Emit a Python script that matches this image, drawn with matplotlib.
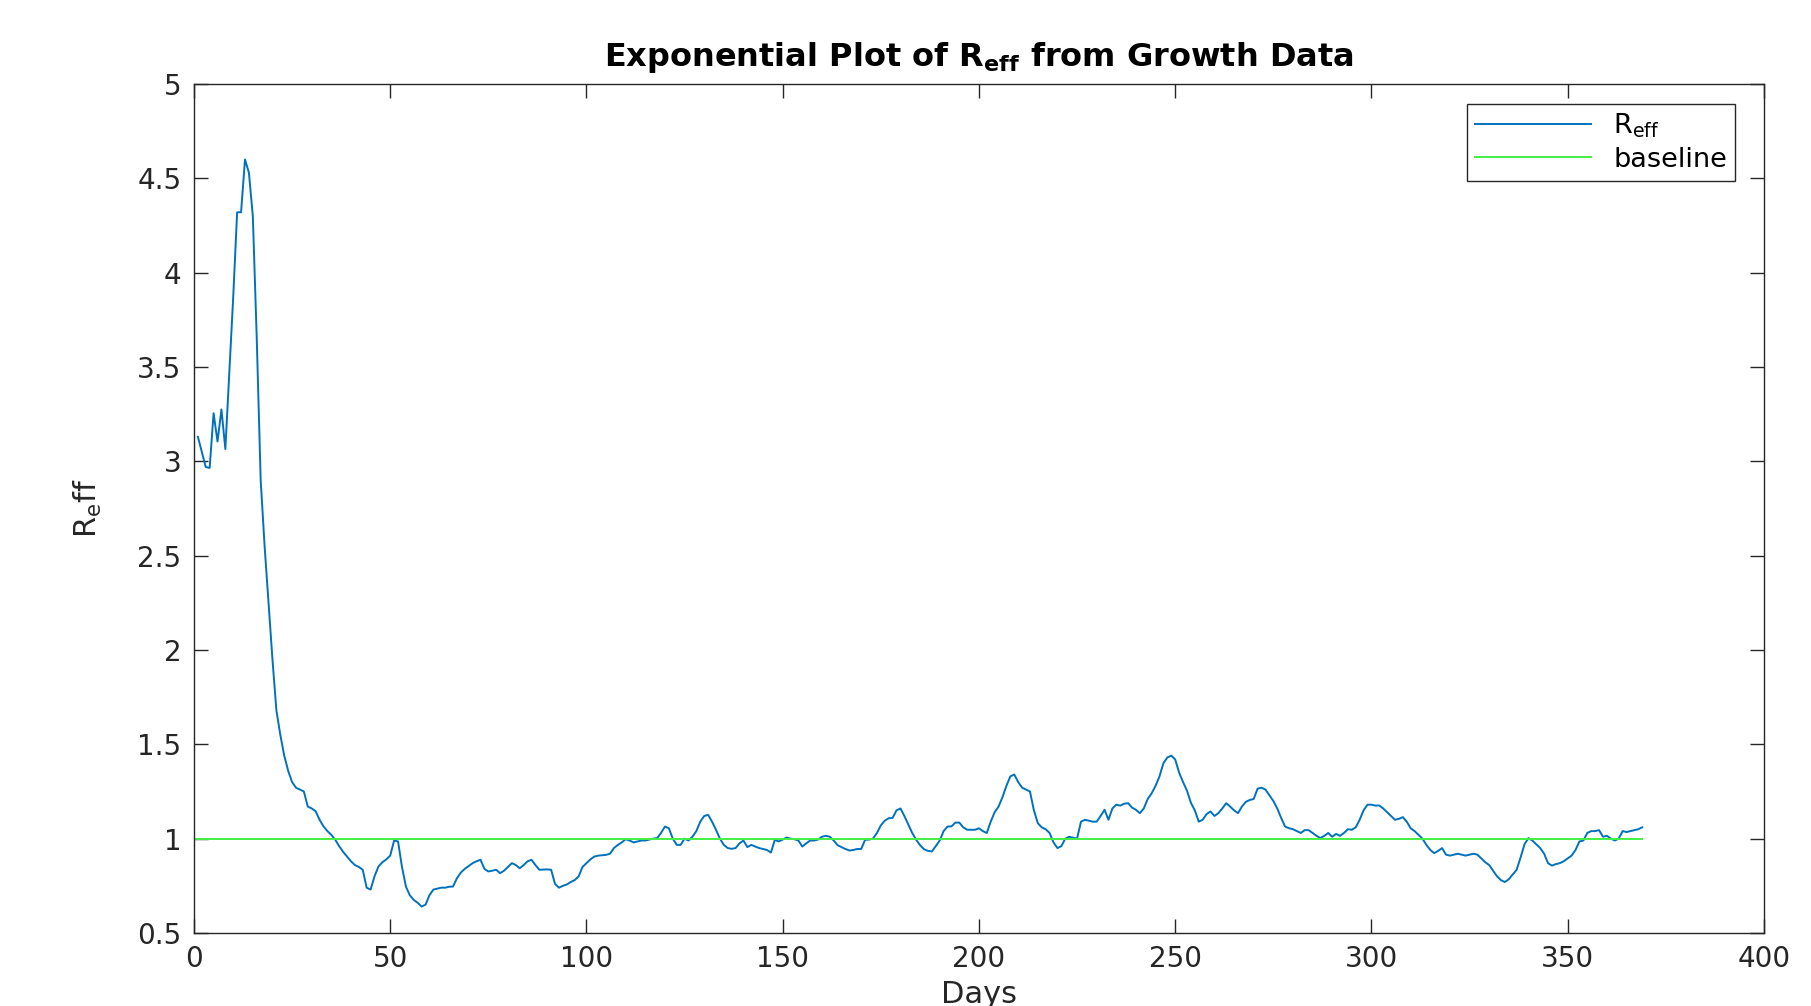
import numpy as np
import matplotlib
matplotlib.use('Agg')
import matplotlib.pyplot as plt

# R_eff, day -> value
days = [1, 2, 3, 4, 5, 6, 7, 8, 10, 11, 12, 13, 14, 15, 16, 17, 18, 19, 20,
        21, 22, 23, 24, 25, 26, 27, 28, 29, 30, 31, 32, 33, 34, 35, 36, 37, 38, 39, 40,
        41, 42, 43, 44, 45, 46, 47, 48, 49, 50, 51, 52, 53, 54, 55, 56, 57, 58, 59, 60,
        61, 62, 63, 64, 65, 66, 67, 68, 69, 70, 71, 72, 73, 74, 75, 76, 77, 78, 79, 80,
        81, 82, 83, 84, 85, 86, 87, 88, 89, 90, 91, 92, 93, 94, 95, 96, 97, 98, 99, 100,
        101, 102, 103, 104, 105, 106, 107, 108, 109, 110, 111, 112, 113, 114, 115, 116, 117, 118, 119, 120,
        121, 122, 123, 124, 125, 126, 127, 128, 129, 130, 131, 132, 133, 134, 135, 136, 137, 138, 139, 140,
        141, 142, 143, 144, 145, 146, 147, 148, 149, 150, 151, 152, 153, 154, 155, 156, 157, 158, 159, 160,
        161, 162, 163, 164, 165, 166, 167, 168, 169, 170, 171, 172, 173, 174, 175, 176, 177, 178, 179, 180,
        181, 182, 183, 184, 185, 186, 187, 188, 189, 190, 191, 192, 193, 194, 195, 196, 197, 198, 199, 200,
        201, 202, 203, 204, 205, 206, 207, 208, 209, 210, 211, 212, 213, 214, 215, 216, 217, 218, 219, 220,
        221, 222, 223, 224, 225, 226, 227, 228, 229, 230, 231, 232, 233, 234, 235, 236, 237, 238, 239, 240,
        241, 242, 243, 244, 245, 246, 247, 248, 249, 250, 251, 252, 253, 254, 255, 256, 257, 258, 259, 260,
        261, 262, 263, 264, 265, 266, 267, 268, 269, 270, 271, 272, 273, 274, 275, 276, 277, 278, 279, 280,
        281, 282, 283, 284, 285, 286, 287, 288, 289, 290, 291, 292, 293, 294, 295, 296, 297, 298, 299, 300,
        301, 302, 303, 304, 305, 306, 307, 308, 309, 310, 311, 312, 313, 314, 315, 316, 317, 318, 319, 320,
        321, 322, 323, 324, 325, 326, 327, 328, 329, 330, 331, 332, 333, 334, 335, 336, 337, 338, 339, 340,
        341, 342, 343, 344, 345, 346, 347, 348, 349, 350, 351, 352, 353, 354, 355, 356, 357, 358, 359, 360,
        361, 362, 363, 364, 365, 366, 367, 368, 369]

reff = [3.13, 3.05, 2.97, 2.965, 3.255, 3.105, 3.275, 3.065, 3.87, 4.32, 4.32, 4.60, 4.53, 4.30, 3.65, 2.9, 2.55, 2.25, 1.95,
        1.68, 1.55, 1.44, 1.36, 1.30, 1.27, 1.26, 1.25, 1.17, 1.16, 1.145, 1.10, 1.065, 1.04, 1.02, 0.994, 0.96, 0.93, 0.905, 0.88,
        0.86, 0.85, 0.835, 0.74, 0.73, 0.80, 0.852, 0.875, 0.89, 0.91, 0.99, 0.985, 0.85, 0.746, 0.70, 0.675, 0.66, 0.64, 0.65, 0.70,
        0.73, 0.735, 0.74, 0.74, 0.745, 0.746, 0.79, 0.82, 0.84, 0.855, 0.87, 0.88, 0.888, 0.84, 0.826, 0.83, 0.835, 0.817, 0.83, 0.85,
        0.87, 0.86, 0.843, 0.86, 0.88, 0.888, 0.86, 0.835, 0.836, 0.837, 0.835, 0.76, 0.74, 0.75, 0.757, 0.77, 0.78, 0.80, 0.85, 0.87,
        0.89, 0.905, 0.91, 0.912, 0.914, 0.92, 0.95, 0.967, 0.98, 0.997, 0.99, 0.98, 0.985, 0.99, 0.99, 0.995, 1.0, 1.003, 1.03, 1.064,
        1.055, 1.0, 0.967, 0.967, 1.0, 0.99, 1.01, 1.04, 1.09, 1.12, 1.126, 1.09, 1.047, 1.0, 0.967, 0.95, 0.946, 0.95, 0.975, 0.99,
        0.955, 0.967, 0.958, 0.95, 0.945, 0.94, 0.926, 0.994, 0.985, 0.995, 1.006, 1.0, 0.997, 0.99, 0.958, 0.975, 0.99, 0.99, 0.995, 1.01,
        1.015, 1.01, 0.99, 0.965, 0.955, 0.945, 0.937, 0.94, 0.945, 0.945, 0.994, 0.995, 1.0, 1.03, 1.07, 1.095, 1.108, 1.11, 1.15, 1.16,
        1.12, 1.075, 1.03, 0.994, 0.965, 0.944, 0.935, 0.932, 0.96, 0.99, 1.04, 1.064, 1.065, 1.085, 1.085, 1.06, 1.047, 1.047, 1.047, 1.055,
        1.04, 1.03, 1.09, 1.14, 1.17, 1.22, 1.28, 1.33, 1.34, 1.30, 1.27, 1.26, 1.25, 1.15, 1.082, 1.06, 1.05, 1.03, 0.98, 0.95,
        0.96, 1.0, 1.01, 1.005, 1.0, 1.09, 1.10, 1.095, 1.09, 1.09, 1.12, 1.153, 1.10, 1.16, 1.18, 1.175, 1.185, 1.188, 1.165, 1.153,
        1.135, 1.16, 1.21, 1.24, 1.28, 1.33, 1.40, 1.43, 1.44, 1.42, 1.35, 1.30, 1.255, 1.19, 1.15, 1.09, 1.10, 1.13, 1.144, 1.12,
        1.135, 1.16, 1.188, 1.17, 1.15, 1.135, 1.17, 1.195, 1.205, 1.21, 1.265, 1.27, 1.26, 1.23, 1.20, 1.16, 1.11, 1.064, 1.055, 1.05,
        1.04, 1.03, 1.045, 1.045, 1.03, 1.015, 1.003, 1.015, 1.03, 1.01, 1.025, 1.015, 1.03, 1.05, 1.047, 1.06, 1.10, 1.15, 1.18, 1.18,
        1.175, 1.176, 1.16, 1.14, 1.12, 1.10, 1.105, 1.114, 1.09, 1.055, 1.04, 1.02, 1.0, 0.967, 0.94, 0.923, 0.935, 0.95, 0.915, 0.91,
        0.915, 0.92, 0.915, 0.91, 0.915, 0.92, 0.915, 0.895, 0.875, 0.86, 0.83, 0.80, 0.78, 0.77, 0.785, 0.81, 0.835, 0.90, 0.97, 1.003,
        0.99, 0.97, 0.95, 0.92, 0.87, 0.857, 0.865, 0.87, 0.88, 0.895, 0.91, 0.94, 0.985, 0.99, 1.03, 1.04, 1.04, 1.045, 1.01, 1.015,
        1.0, 0.99, 1.0, 1.04, 1.035, 1.04, 1.045, 1.05, 1.06]

base_days = [0, 369]
base_vals = [1, 1]

xticks = [0, 50, 100, 150, 200, 250, 300, 350, 400]
yticks = [0.5, 1, 1.5, 2, 2.5, 3, 3.5, 4, 4.5, 5]
ytick_labels = ['0.5', '1', '1.5', '2', '2.5', '3', '3.5', '4', '4.5', '5']

plt.rcParams['font.family'] = 'DejaVu Sans'
plt.rcParams['mathtext.default'] = 'regular'

fig = plt.figure(figsize=(18.11, 10.06), dpi=100)
ax = fig.add_axes([0.1071, 0.0726, 0.8669, 0.8439])

ax.plot(days, reff, color='#0072BD', lw=1.4, label='R$_{eff}$')
ax.plot(base_days, base_vals, color='#44ee44', lw=1.4, label='baseline')

ax.set_xlim(0, 400)
ax.set_ylim(0.5, 5)
ax.set_xticks(xticks)
ax.set_yticks(yticks)
ax.set_yticklabels(ytick_labels)
ax.tick_params(direction='in', length=10, width=1, colors='#262626', labelsize=20,
               top=True, right=True, pad=9)
for s in ax.spines.values():
    s.set_color('#262626')
    s.set_linewidth(1)

ax.set_xlabel('Days', fontsize=22, color='#262626', labelpad=5)
ax.set_ylabel('R$_e$ff', fontsize=22, color='#262626', labelpad=24)
ax.set_title(r'Exponential Plot of R$_{\mathbf{eff}}$ from Growth Data',
             fontsize=23, fontweight='bold', pad=13)

leg = ax.legend(loc='upper right', fontsize=19.5, fancybox=False, framealpha=1,
                edgecolor='#262626', handlelength=4.3, borderaxespad=0,
                labelspacing=0.25, borderpad=0.3,
                bbox_to_anchor=(0.9816, 0.977))
leg.get_frame().set_linewidth(1)

plt.savefig('out.png', dpi=100)
plt.close()
